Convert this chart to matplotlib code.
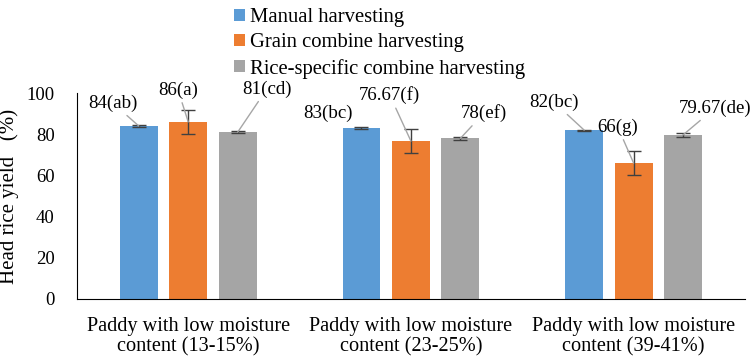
import numpy as np
import matplotlib.pyplot as plt

plt.rcParams['font.family'] = ['Liberation Serif', 'DejaVu Serif']
plt.rcParams['font.size'] = 14

categories = ['Paddy with low moisture\ncontent (13-15%)',
              'Paddy with low moisture\ncontent (23-25%)',
              'Paddy with low moisture\ncontent (39-41%)']
series = ['Manual harvesting', 'Grain combine harvesting',
          'Rice-specific combine harvesting']
manual = [84, 83, 82]
grain = [86, 76.67, 66]
rice = [81, 78, 79.67]
manual_err = [0.5, 0.5, 0.3]
grain_err = [5.7, 5.7, 5.8]
rice_err = [0.5, 0.8, 0.8]
labels = [['84(ab)', '83(bc)', '82(bc)'],
          ['86(a)', '76.67(f)', '66(g)'],
          ['81(cd)', '78(ef)', '79.67(de)']]
# label text positions (x in category units, y in data units)
label_pos = [[(-0.338, 95.1), (0.627, 90.3), (1.642, 95.6)],
             [(-0.046, 101.5), (0.905, 99.0), (1.929, 83.5)],
             [(0.353, 102.0), (1.328, 90.3), (2.365, 92.7)]]
draw_line = [[True, False, True],
             [True, True, True],
             [True, True, True]]

colors = ['#5B9BD5', '#ED7D31', '#A5A5A5']

fig = plt.figure(figsize=(7.54, 3.58), dpi=100)
ax = fig.add_axes([0.102, 0.165, 0.886, 0.575])

x = np.arange(len(categories))
offs = [-0.222, 0, 0.222]
w = 0.17
vals = [manual, grain, rice]
errs = [manual_err, grain_err, rice_err]
for i in range(3):
    ax.bar(x + offs[i], vals[i], w, color=colors[i], label=series[i], zorder=2)
    ax.errorbar(x + offs[i], vals[i], yerr=errs[i], fmt='none', ecolor='#404040',
                elinewidth=1, capsize=4.7, capthick=1, zorder=3)
    for j in range(3):
        tx, ty = label_pos[i][j]
        if draw_line[i][j]:
            ax.annotate(labels[i][j], xy=(x[j] + offs[i], vals[i][j]), xytext=(tx, ty),
                        ha='center', va='center', annotation_clip=False, fontsize=13.6,
                        arrowprops=dict(arrowstyle='-', color='#A6A6A6', lw=1,
                                        shrinkA=1, shrinkB=0))
        else:
            ax.text(tx, ty, labels[i][j], ha='center', va='center', fontsize=13.6)

ax.set_xlim(-0.5, 2.5)
ax.set_ylim(0, 100)
ax.set_yticks(range(0, 101, 20))
ax.set_xticks(x)
ax.set_xticklabels(categories, fontsize=14.6, linespacing=1.12)
ax.tick_params(axis='x', length=0, pad=13)
ax.tick_params(axis='y', length=0, pad=16, labelsize=13.5)
ax.set_ylabel('Head rice yield   (%)', fontsize=15)
ax.yaxis.set_label_coords(-0.087, 0.5)
for s in ['top', 'right']:
    ax.spines[s].set_visible(False)
ax.spines['left'].set_color('#000000')
ax.spines['bottom'].set_color('#000000')

fig.legend(loc='upper left', bbox_to_anchor=(0.300, 1.0), frameon=False,
           fontsize=14.9, handlelength=0.5, handleheight=0.5, handletextpad=0.25,
           labelspacing=0.3, borderaxespad=0)

fig.savefig('out.png', dpi=100)
